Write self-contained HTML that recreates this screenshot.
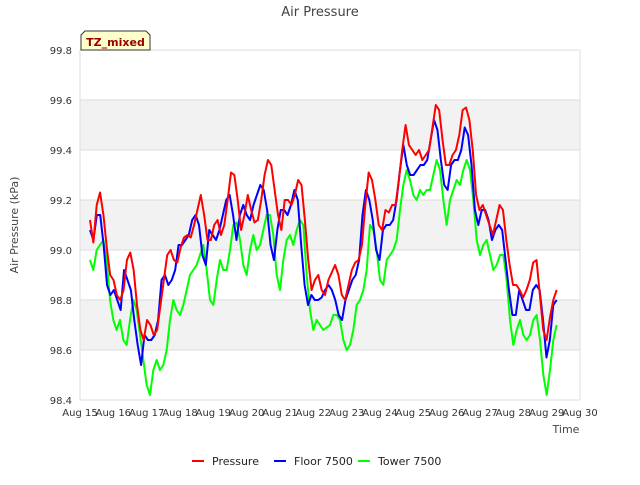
<!DOCTYPE html>
<html><head><meta charset="utf-8"><style>
body{margin:0;background:#fff;width:640px;height:480px;overflow:hidden;font-family:"Liberation Sans","DejaVu Sans",sans-serif;}
svg text{font-family:"DejaVu Sans","Liberation Sans",sans-serif;}
</style></head><body>
<svg id="chart" width="640" height="480" viewBox="0 0 640 480" xmlns="http://www.w3.org/2000/svg">
<text x="320" y="16" text-anchor="middle" font-size="13" fill="#444">Air Pressure</text>
<g id="bands"></g><g id="grid"></g><g id="yticks"></g><g id="xticks"></g><g id="series"></g>
<text transform="translate(18,225) rotate(-90)" text-anchor="middle" font-size="11" fill="#444">Air Pressure (kPa)</text>
<text x="566" y="433" text-anchor="middle" font-size="11" fill="#444">Time</text>
<g>
<path d="M81,50 L81,35 L85,31 L146,31 L150,35 L150,50 Z" fill="#ffffcc" stroke="#333" stroke-width="1"/>
<text x="115.5" y="46" text-anchor="middle" font-size="11" font-weight="bold" fill="#990000">TZ_mixed</text>
</g>
<g>
<g><line x1="192" y1="461" x2="204" y2="461" stroke="#ff0000" stroke-width="2"/><text x="212" y="465" font-size="11" fill="#222">Pressure</text></g>
<g><line x1="274" y1="461" x2="286" y2="461" stroke="#0000ff" stroke-width="2"/><text x="294" y="465" font-size="11" fill="#222">Floor 7500</text></g>
<g><line x1="358" y1="461" x2="370" y2="461" stroke="#00ff00" stroke-width="2"/><text x="378" y="465" font-size="11" fill="#222">Tower 7500</text></g>
</g>
</svg>
<script>
const xTickLabels=["Aug 15","Aug 16","Aug 17","Aug 18","Aug 19","Aug 20","Aug 21","Aug 22","Aug 23","Aug 24","Aug 25","Aug 26","Aug 27","Aug 28","Aug 29","Aug 30"];
const yTicks=[98.4,98.6,98.8,99.0,99.2,99.4,99.6,99.8];
const startDay=0.3, endDay=14.3;
const pressure=[99.12,99.03,99.18,99.23,99.14,99.01,98.90,98.88,98.82,98.80,98.84,98.96,98.99,98.92,98.78,98.68,98.64,98.72,98.70,98.66,98.68,98.78,98.88,98.98,99.00,98.96,98.95,99.01,99.05,99.06,99.05,99.10,99.16,99.22,99.14,99.04,99.04,99.10,99.12,99.06,99.10,99.20,99.31,99.30,99.20,99.08,99.14,99.22,99.16,99.11,99.12,99.20,99.30,99.36,99.34,99.24,99.14,99.08,99.20,99.20,99.18,99.22,99.28,99.26,99.12,98.96,98.84,98.88,98.90,98.84,98.82,98.88,98.91,98.94,98.90,98.82,98.80,98.86,98.92,98.95,98.96,99.02,99.18,99.31,99.28,99.20,99.10,99.08,99.16,99.15,99.18,99.18,99.28,99.40,99.50,99.42,99.40,99.38,99.40,99.36,99.38,99.40,99.49,99.58,99.56,99.44,99.34,99.34,99.38,99.40,99.46,99.56,99.57,99.52,99.40,99.22,99.16,99.18,99.14,99.10,99.06,99.12,99.18,99.16,99.04,98.94,98.86,98.86,98.84,98.81,98.84,98.88,98.95,98.96,98.82,98.68,98.64,98.73,98.80,98.84];
const floor7500=[99.08,99.04,99.14,99.14,99.02,98.86,98.82,98.84,98.80,98.76,98.92,98.88,98.84,98.72,98.62,98.54,98.66,98.64,98.64,98.66,98.72,98.88,98.90,98.86,98.88,98.92,99.02,99.02,99.04,99.06,99.12,99.14,99.10,98.98,98.94,99.08,99.06,99.04,99.08,99.14,99.20,99.22,99.14,99.04,99.14,99.18,99.14,99.12,99.18,99.22,99.26,99.24,99.16,99.02,98.96,99.08,99.16,99.16,99.14,99.18,99.24,99.20,99.02,98.86,98.78,98.82,98.80,98.80,98.81,98.84,98.86,98.84,98.80,98.74,98.72,98.80,98.84,98.88,98.90,98.96,99.14,99.24,99.20,99.12,99.00,98.96,99.08,99.10,99.10,99.12,99.20,99.32,99.42,99.34,99.30,99.30,99.32,99.34,99.34,99.36,99.44,99.52,99.48,99.36,99.26,99.24,99.34,99.36,99.36,99.40,99.49,99.46,99.34,99.16,99.10,99.16,99.16,99.12,99.04,99.08,99.10,99.08,98.96,98.84,98.74,98.74,98.84,98.80,98.76,98.76,98.84,98.86,98.84,98.72,98.57,98.64,98.78,98.80];
const tower7500=[98.96,98.92,99.00,99.02,99.04,98.96,98.80,98.72,98.68,98.72,98.64,98.62,98.72,98.80,98.76,98.66,98.56,98.46,98.42,98.52,98.56,98.52,98.54,98.60,98.72,98.80,98.76,98.74,98.78,98.84,98.90,98.92,98.94,98.98,99.02,98.92,98.80,98.78,98.88,98.96,98.92,98.92,99.00,99.10,99.11,99.04,98.94,98.90,99.00,99.06,99.00,99.02,99.08,99.14,99.14,99.06,98.90,98.84,98.96,99.04,99.06,99.02,99.08,99.12,99.10,98.90,98.76,98.68,98.72,98.70,98.68,98.69,98.70,98.74,98.74,98.72,98.64,98.60,98.62,98.68,98.78,98.80,98.84,98.92,99.10,99.08,99.00,98.88,98.86,98.96,98.98,99.00,99.04,99.16,99.26,99.32,99.28,99.22,99.20,99.24,99.22,99.24,99.24,99.30,99.36,99.32,99.20,99.10,99.20,99.24,99.28,99.26,99.32,99.36,99.32,99.20,99.04,98.98,99.02,99.04,98.98,98.92,98.94,98.98,98.98,98.88,98.72,98.62,98.68,98.72,98.66,98.64,98.66,98.72,98.74,98.64,98.50,98.42,98.52,98.64,98.70];

const NS="http://www.w3.org/2000/svg";
const L=80,R=580,T=50,B=400,yMin=98.4,yMax=99.8,dMax=15;
const xs=d=>L+(d/dMax)*(R-L);
const ys=v=>B-(v-yMin)/(yMax-yMin)*(B-T);
function mk(tag,attrs,parent){const e=document.createElementNS(NS,tag);for(const k in attrs)e.setAttribute(k,attrs[k]);parent.appendChild(e);return e;}
const bands=document.getElementById('bands'),grid=document.getElementById('grid'),yt=document.getElementById('yticks'),xt=document.getElementById('xticks'),ser=document.getElementById('series');
for(let i=0;i<yTicks.length-1;i++){
  if(i%2===1){
    const r=mk('rect',{x:L,y:ys(yTicks[i+1]),width:R-L,height:ys(yTicks[i])-ys(yTicks[i+1]),fill:'#f2f2f2'},bands);
    
    
  }
}
yTicks.forEach(v=>{
  const g=mk('line',{x1:L,x2:R,y1:ys(v),y2:ys(v),stroke:'#dcdcdc','stroke-width':1},grid);
  
  
  const t=mk('text',{x:L-8,y:ys(v)+4,'text-anchor':'end','font-size':'10',fill:'#333'},yt);
  t.textContent=v.toFixed(1);
  
  
});
const ax=mk('line',{x1:L,x2:L,y1:T,y2:B,stroke:'#dcdcdc'},grid);


const ax2=mk('line',{x1:R,x2:R,y1:T,y2:B,stroke:'#dcdcdc'},grid);


xTickLabels.forEach((lab,i)=>{
  const t=mk('text',{x:xs(i),y:416,'text-anchor':'middle','font-size':'10',fill:'#333'},xt);
  t.textContent=lab;
  
  
});
function drawSeries(arr,color,name){
  const n=arr.length,step=(endDay-startDay)/(n-1);
  const pts=arr.map((v,i)=>xs(startDay+i*step).toFixed(2)+','+ys(v).toFixed(2)).join(' ');
  const p=mk('polyline',{points:pts,fill:'none',stroke:color,'stroke-width':2,'stroke-linejoin':'round'},ser);
  
  
}
drawSeries(tower7500,'#00ff00','tower-7500-line');
drawSeries(floor7500,'#0000ff','floor-7500-line');
drawSeries(pressure,'#ff0000','pressure-line');
</script>
</body></html>
